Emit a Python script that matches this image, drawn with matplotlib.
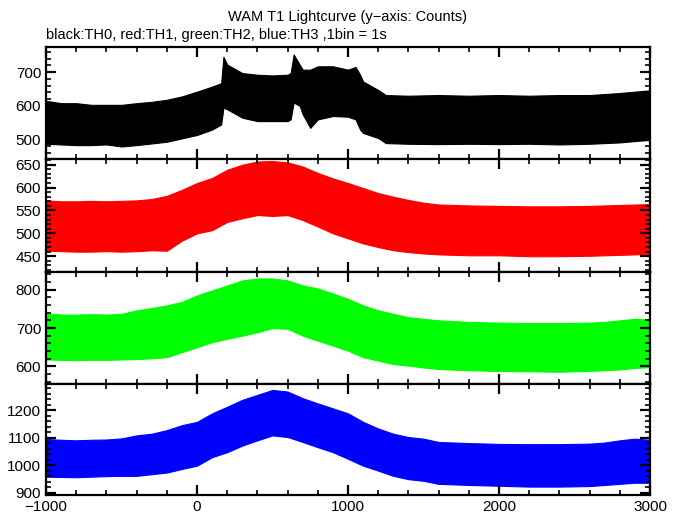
import matplotlib
matplotlib.use("Agg")
import matplotlib.pyplot as plt
from matplotlib.ticker import MultipleLocator

plt.rcParams['font.family'] = ['Liberation Sans', 'DejaVu Sans']

# ---- data: envelope of the 1-s binned lightcurves (upper / lower bounds) ----
t_th0 = [-1000, -900, -800, -700, -600, -500, -400, -300, -200, -100, 0, 100, 160, 175,
         200, 300, 400, 500, 600, 620, 640, 680, 700, 750, 800, 900, 1000, 1050, 1080,
         1100, 1200, 1250, 1400, 1600, 1800, 2000, 2200, 2400, 2600, 2800, 2900, 3000]
hi_th0 = [615, 608, 608, 603, 603, 603, 608, 612, 618, 628, 642, 657, 667, 745,
          722, 697, 692, 690, 692, 697, 752, 722, 707, 707, 717, 717, 707, 715, 692,
          672, 647, 632, 630, 632, 630, 632, 630, 632, 632, 638, 642, 646]
lo_th0 = [488, 486, 484, 484, 486, 480, 484, 489, 494, 504, 514, 530, 545, 595,
          590, 565, 555, 555, 555, 560, 610, 600, 575, 535, 560, 570, 568, 560, 530,
          520, 505, 490, 488, 487, 488, 487, 488, 486, 488, 492, 496, 500]

t_grid = [-1000, -900, -800, -700, -600, -500, -400, -300, -200, -100, 0, 100, 200,
          300, 400, 500, 600, 700, 800, 900, 1000, 1100, 1200, 1300, 1400, 1500,
          1600, 1800, 2000, 2200, 2400, 2600, 2700, 2800, 2900, 3000]
hi_th1 = [572, 570, 570, 571, 570, 571, 572, 575, 582, 595, 610, 621, 639,
          650, 657, 658, 655, 646, 632, 620, 610, 599, 588, 580, 573, 567,
          563, 561, 560, 559, 559, 560, 561, 562, 563, 564]
lo_th1 = [462, 461, 460, 460, 461, 460, 461, 463, 462, 484, 500, 507, 525,
          533, 540, 538, 540, 529, 515, 500, 489, 478, 470, 463, 459, 456,
          454, 452, 452, 450, 450, 451, 452, 453, 454, 455]
hi_th2 = [738, 735, 735, 736, 735, 737, 746, 752, 759, 768, 785, 798, 811,
          824, 829, 829, 824, 811, 803, 790, 776, 759, 746, 737, 728, 724,
          720, 716, 714, 713, 713, 714, 716, 720, 724, 722]
lo_th2 = [618, 617, 616, 617, 617, 618, 619, 621, 624, 637, 650, 663, 672,
          680, 689, 700, 698, 680, 667, 654, 641, 624, 615, 606, 602, 597,
          593, 590, 588, 587, 586, 588, 590, 592, 596, 598]
hi_th3 = [1095, 1092, 1090, 1092, 1093, 1097, 1108, 1114, 1127, 1145, 1157, 1188, 1212,
          1237, 1255, 1273, 1267, 1243, 1224, 1206, 1188, 1157, 1133, 1114, 1102, 1096,
          1084, 1080, 1077, 1076, 1076, 1078, 1082, 1090, 1096, 1092]
lo_th3 = [958, 957, 956, 958, 960, 961, 961, 967, 973, 986, 998, 1029, 1047,
          1071, 1090, 1108, 1102, 1084, 1065, 1047, 1023, 998, 980, 961, 949, 943,
          932, 928, 925, 922, 922, 924, 928, 932, 936, 936]

series = [
    (t_th0, hi_th0, lo_th0, 'black', (443, 774), 100, 20),
    (t_grid, hi_th1, lo_th1, '#ff0000', (415.5, 662.5), 50, 10),
    (t_grid, hi_th2, lo_th2, '#00ff00', (554, 846), 100, 20),
    (t_grid, hi_th3, lo_th3, '#0000ff', (891.5, 1294.5), 100, 20),
]

fig = plt.figure(figsize=(6.8, 5.15), dpi=100)
left, right = 46 / 680, 650 / 680
tops = [47, 159, 272, 384]
bots = [159, 272, 384, 495]

for i, (t, hi, lo, col, ylim, maj, mnr) in enumerate(series):
    ax = fig.add_axes([left, 1 - bots[i] / 515, right - left, (bots[i] - tops[i]) / 515])
    ax.fill_between(t, lo, hi, color=col, linewidth=0.8, edgecolor=col)
    ax.set_xlim(-1000, 3000)
    ax.set_ylim(*ylim)
    ax.xaxis.set_major_locator(MultipleLocator(1000))
    ax.xaxis.set_minor_locator(MultipleLocator(200))
    ax.yaxis.set_major_locator(MultipleLocator(maj))
    ax.yaxis.set_minor_locator(MultipleLocator(mnr))
    ax.tick_params(which='both', direction='in', top=True, right=True, labelsize=11,
                   width=1.2, colors='black')
    ax.tick_params(which='major', length=7, width=1.6)
    ax.tick_params(which='minor', length=3.5)
    for s in ax.spines.values():
        s.set_linewidth(1.6)
    if i < 3:
        ax.set_xticklabels([])

fig.text(348 / 680, 1 - 17 / 515, 'WAM T1 Lightcurve (y\u2212axis: Counts)', ha='center',
         va='center', fontsize=10.5)
fig.text(46 / 680, 1 - 35 / 515, 'black:TH0, red:TH1, green:TH2, blue:TH3 ,1bin = 1s',
         ha='left', va='center', fontsize=10.5)

fig.savefig('out.png', dpi=100)
